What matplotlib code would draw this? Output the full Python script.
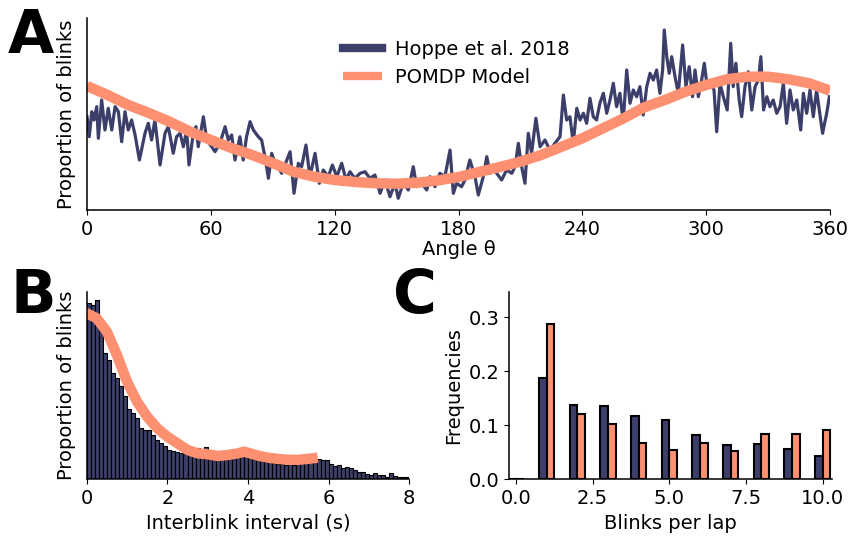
import numpy as np
import matplotlib
matplotlib.use("Agg")
import matplotlib.pyplot as plt

# --- panel A: blink proportion vs angle (arbitrary units) ---
hoppe_angle = [0, 1.1, 2.3, 3.4, 4.7, 5.5, 7.1, 8.7, 10.3, 12, 13.6, 15.2, 16.8, 18.4, 20, 21.6,
               23.3, 25.4, 28.1, 29.7, 31.3, 32.9, 35.4, 37.8, 39.4, 41.8, 43.4, 45.1, 46.7, 48.3,
               49.4, 51.5, 52.8, 53.9, 56.4, 58, 60.4, 62, 64.4, 66.9, 68.5, 70.1, 71.7, 74.1,
               75.7, 77.3, 79, 80.6, 83, 84.6, 86.2, 87.9, 89.5, 91.1, 93.5,
               94.3, 96.8, 98.4, 100.3, 102.4, 104, 106.1, 108, 110.5, 112.6, 114.5, 116.9,
               118.9, 121, 123.4, 125.5, 127.4, 129.8, 132.3, 134.7, 137.1, 139.5, 142, 144.4,
               146.8, 149.2, 150.8, 153.2, 155.7, 158.1, 159.7, 162.2, 164.6, 166.2, 168.6, 171,
               173.4, 175.9, 177.5, 179.1, 181.5,
               183.1, 185.5, 188, 189.6, 192, 193.7, 195.3, 196.9, 198.5, 200.9, 203.3, 205.8,
               207.4, 209, 210.6, 212.2, 213.8, 215.4, 217.5, 219.5, 221.9, 224.3, 226.7, 229.2,
               230.8, 232.4, 234, 235.6, 237.3, 238.9, 240.5, 242.1, 243.7, 245.3, 246.9, 248.5,
               250.2, 251.8, 253.4, 255, 256.6, 258.2, 259.8, 261.5, 263.1, 264.7, 266.3, 267.9,
               269.5, 271.2,
               272.8, 274.4, 276, 277.6, 278.9, 279.7, 280.9, 282.1, 283.3, 284.9, 286.5, 288.6,
               290.2, 291.8, 293.4, 294.6, 296.2, 297.8, 299.1, 300.5, 302.2, 303.8, 305.1, 306.7,
               308.3, 310.2, 311.9, 313.1, 314.4, 316, 317.2, 318.8, 320.4, 322.1, 323.7, 325.3,
               326.5, 327.8, 329.4, 330.9, 332.5, 334.2, 335.8, 337.4, 339, 340.6, 342.2, 343.9,
               345.8, 347.1, 348.7, 350.3, 351.9, 353.5, 354.8, 356.4, 358.4, 359.7]
hoppe_prop = [9.33, 7.33, 9.83, 9.0, 10.33, 7.17, 11.0, 8.0, 10.17, 8.0, 10.33, 9.83, 6.83, 9.83, 8.0, 9.0,
              7.5, 5.0, 7.67, 8.67, 7.0, 9.0, 4.5, 7.67, 8.33, 5.67, 7.33, 7.67, 6.33, 8.0,
              4.5, 7.67, 8.33, 6.33, 9.33, 7.0, 6.33, 5.83, 6.67, 8.33, 7.0, 7.5, 5.0, 7.33,
              5.0, 7.33, 8.83, 8.0, 7.33, 7.0, 5.33, 3.17, 5.67, 4.67, 4.0,
              3.67, 5.0, 5.83, 1.67, 4.67, 4.33, 6.5, 3.33, 5.67, 2.67, 4.0, 3.33,
              4.5, 3.33, 4.67, 3.0, 3.83, 3.17, 3.67, 3.83, 3.17, 3.5, 1.67, 3.0,
              1.33, 2.67, 1.17, 2.67, 2.0, 4.33, 2.33, 2.67, 2.0, 3.33, 2.33, 3.67,
              3.33, 6.0, 1.67, 2.67, 2.33,
              3.0, 5.0, 3.33, 1.5, 3.33, 5.33, 3.67, 4.5, 3.67, 3.0, 4.0, 3.67,
              4.33, 6.67, 4.33, 2.67, 7.67, 5.67, 9.17, 6.33, 7.0, 6.0, 6.67, 7.33,
              11.5, 9.0, 9.33, 6.67, 10.17, 9.0, 9.67, 8.67, 11.17, 9.33, 9.0, 10.67,
              11.67, 9.67, 11.0, 12.67, 10.33, 11.67, 8.83, 14.0, 10.67, 12.0, 11.33, 12.33,
              9.5, 12.33,
              13.67, 13.0, 14.0, 11.67, 14.0, 18.0, 15.33, 13.67, 15.33, 13.33, 11.67, 16.5,
              12.33, 14.33, 11.33, 14.0, 11.33, 13.0, 14.67, 12.33, 12.67, 12.0, 7.83, 12.67,
              11.33, 10.0, 16.67, 12.33, 14.67, 11.0, 9.33, 12.33, 13.83, 10.0, 12.33, 13.0,
              15.33, 10.0, 11.33, 10.33, 11.0, 9.67, 10.33, 12.67, 8.67, 12.0, 10.0, 11.0,
              8.0, 11.67, 9.67, 12.0, 9.33, 12.0, 10.0, 7.67, 9.67, 11.33]

model_angle = [0, 10, 20, 30, 40, 50, 60, 70, 80, 90, 100, 110, 120, 130, 140, 150, 160, 170, 180,
               190, 200, 210, 220, 230, 240, 250, 260, 270, 280, 290, 300, 310, 320, 330, 340, 350, 360]
model_prop = [12.4, 11.5, 10.5, 9.7, 8.83, 7.83, 7.0, 6.2, 5.5, 4.7, 3.83, 3.33, 3.0, 2.8, 2.67, 2.63,
              2.73, 2.95, 3.3, 3.8, 4.3, 4.83, 5.5, 6.33, 7.17, 8.17, 9.17, 10.27, 11.0, 11.83, 12.5,
              13.07, 13.33, 13.33, 13.07, 12.67, 11.93]

# --- panel B: interblink interval histogram (0.1 s bins) ---
ibi_bin_width = 0.1
ibi_hist = [176, 174, 179, 150, 126, 119, 106, 101, 93, 83,
            70, 66, 61, 51, 49, 49, 44, 39, 36, 33,
            29.5, 28, 27, 26, 25, 24, 24, 31.6, 26, 32.3,
            25, 22, 23, 28, 22, 21, 21, 22, 23, 24,
            22, 20, 19, 18, 17, 17, 16, 15, 15, 14,
            22.7, 14, 15, 16, 17, 18, 20.3, 20, 19.5, 19.5,
            15, 13.5, 14.3, 11, 12, 11.7, 9.3, 7.7, 7, 5.7,
            4, 6, 4.3, 4.3, 2, 6, 3.3, 2.7, 2.7, 2.7]
ibi_model_t = [0, 0.25, 0.5, 0.75, 1.0, 1.25, 1.5, 1.75, 2.0, 2.25, 2.5, 2.75, 3.0, 3.25,
               3.5, 3.75, 3.9, 4.0, 4.25, 4.5, 4.75, 5.0, 5.25, 5.5, 5.6]
ibi_model = [166, 161, 147.6, 124.3, 97.6, 77.6, 62.6, 51, 42.6, 36, 29.3, 26, 25, 23.3,
             24.3, 26, 27.6, 26.6, 23.6, 21.6, 20.3, 19.5, 19.5, 20.5, 21]

# --- panel C: blinks per lap ---
blinks = [0, 1, 2, 3, 4, 5, 6, 7, 8, 9, 10]
freq_data = [0, 0.188, 0.138, 0.135, 0.117, 0.109, 0.082, 0.064, 0.065, 0.056, 0.044]
freq_model = [0, 0.288, 0.120, 0.103, 0.067, 0.054, 0.067, 0.052, 0.083, 0.083, 0.091]

navy = "#3d3f6b"
salmon = "#fc9070"

plt.rcParams["font.size"] = 14
W, H = 849, 539
fig = plt.figure(figsize=(W / 100, H / 100), dpi=100)

def px_axes(x0, y0, x1, y1):
    return fig.add_axes([x0 / W, 1 - y1 / H, (x1 - x0) / W, (y1 - y0) / H])

# A
axA = px_axes(87, 18, 830, 210)
axA.plot(hoppe_angle, hoppe_prop, color=navy, lw=2.3, label="Hoppe et al. 2018")
axA.plot(model_angle, model_prop, color=salmon, lw=7.5, label="POMDP Model", solid_capstyle="butt")
axA.set_xlim(0, 360)
axA.set_ylim(0, 19.2)
axA.set_xticks(np.arange(0, 361, 60))
axA.set_yticks([])
axA.set_xlabel("Angle θ", labelpad=1)
axA.set_ylabel("Proportion of blinks", labelpad=8)
leg = axA.legend(loc="upper center", bbox_to_anchor=(0.497, 0.975), frameon=False,
                 handlelength=2.0, handletextpad=0.7, labelspacing=0.45)
for ln in leg.get_lines():
    ln.set_linewidth(6)

# B
axB = px_axes(86.7, 291.7, 409.3, 479.3)
edges = np.arange(len(ibi_hist)) * ibi_bin_width
axB.bar(edges, ibi_hist, width=ibi_bin_width, align="edge", color=navy,
        edgecolor="black", linewidth=0.8)
axB.plot(ibi_model_t, ibi_model, color=salmon, lw=7.5)
axB.set_xlim(0, 8)
axB.set_ylim(0, 187.6)
axB.set_xticks([0, 2, 4, 6, 8])
axB.set_yticks([])
axB.set_xlabel("Interblink interval (s)")
axB.set_ylabel("Proportion of blinks", labelpad=8)

# C
axC = px_axes(509.3, 291.7, 831.7, 479.3)
b = np.array(blinks)
axC.bar(b - 0.125, freq_data, width=0.25, color=navy, edgecolor="black", linewidth=1.5)
axC.bar(b + 0.125, freq_model, width=0.25, color=salmon, edgecolor="black", linewidth=1.5)
axC.set_xlim(-0.22, 10.3)
axC.set_ylim(0, 0.347)
axC.set_xticks([0, 2.5, 5.0, 7.5, 10.0])
axC.set_yticks([0, 0.1, 0.2, 0.3])
axC.set_xlabel("Blinks per lap")
axC.set_ylabel("Frequencies")

for ax in (axA, axB, axC):
    ax.spines["top"].set_visible(False)
    ax.spines["right"].set_visible(False)
    ax.spines["left"].set_linewidth(1.1)
    ax.spines["bottom"].set_linewidth(1.1)

# panel letters
fig.text(8 / W, 1 - 53 / H, "A", fontsize=43, fontweight="bold", va="baseline")
fig.text(10 / W, 1 - 313 / H, "B", fontsize=43, fontweight="bold", va="baseline")
fig.text(393 / W, 1 - 313 / H, "C", fontsize=43, fontweight="bold", va="baseline")

fig.savefig("out.png", dpi=100)
